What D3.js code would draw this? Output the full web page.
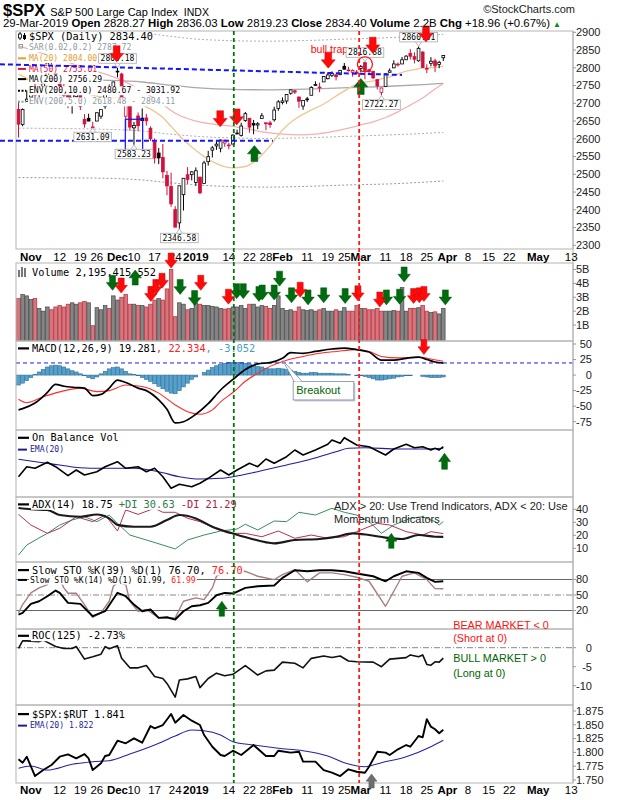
<!DOCTYPE html>
<html>
<head>
<meta charset="utf-8">
<script src="https://cdn.jsdelivr.net/npm/d3@7"></script>
<style>
  body { margin: 0; background: #fff; }
  svg { display: block; font-family: "Liberation Sans", Arial, sans-serif; }
</style>
</head>
<body>
<svg id="chart" width="620" height="800"></svg>
<script>
// one entry per trading day, 29-Oct-2018 .. 29-Mar-2019 (index 0..103)
var openPx = [2682.65,2640.68,2705.60,
  2717.58,2745.45,2726.37,2738.40,2774.13,2806.38,2794.10,2773.93,2730.05,2737.90,2693.52,2718.54,2730.74,2654.60,2657.74,2633.36,2649.97,2663.75,2691.45,2736.97,2737.76,
  2790.50,2782.43,2663.51,2691.26,2630.86,2664.44,2658.23,2658.70,2629.68,2590.75,2559.90,2547.05,2496.77,2465.38,2400.56,2363.12,2442.50,2498.77,2498.94,
  2476.96,2491.92,2474.33,2535.61,2568.11,2580.00,2573.51,2588.11,2580.31,2585.10,2614.75,2609.28,2651.27,2657.88,2643.48,2638.84,2657.44,2644.97,2644.89,2653.62,2685.49,
  2702.32,2706.49,2728.34,2735.05,2717.53,2692.36,2712.40,2722.61,2750.30,2743.50,2760.24,2769.28,2779.05,2780.24,2780.67,2804.35,2792.36,2787.50,2788.11,
  2798.22,2814.37,2794.41,2790.27,2766.53,2730.79,2747.61,2787.34,2799.78,2810.38,2810.79,2822.61,2840.76,2831.34,2819.72,2844.52,2796.01,2812.66,2819.72,2809.40,2828.27];
var highPx = [2706.85,2685.43,2736.69,
  2741.67,2756.55,2744.27,2756.82,2815.15,2814.75,2794.10,2775.99,2754.60,2746.80,2735.38,2746.75,2733.16,2669.44,2670.73,2647.55,2674.35,2682.53,2744.00,2753.75,2760.88,
  2800.18,2785.93,2696.15,2708.54,2647.51,2674.35,2685.44,2670.19,2635.07,2601.13,2573.99,2585.29,2509.63,2504.41,2410.34,2467.76,2489.10,2520.27,2509.24,
  2519.49,2493.14,2538.07,2566.16,2579.82,2595.32,2597.82,2596.27,2589.32,2613.08,2625.76,2645.06,2675.47,2657.88,2653.19,2647.20,2672.38,2644.97,2650.93,2690.44,2708.95,
  2716.66,2724.99,2738.98,2738.08,2719.32,2708.07,2718.05,2748.19,2761.85,2757.90,2775.66,2787.33,2789.88,2781.58,2794.20,2813.49,2803.12,2795.76,2793.73,
  2808.02,2816.88,2796.44,2790.27,2767.25,2744.13,2784.00,2798.32,2821.24,2815.00,2830.73,2835.41,2852.42,2843.54,2860.31,2846.16,2809.79,2829.87,2825.56,2819.71,2836.03];
var lowPx = [2603.54,2635.34,2705.60,
  2708.85,2700.44,2717.94,2737.08,2774.13,2794.99,2764.24,2722.00,2714.98,2685.75,2670.75,2712.16,2681.09,2631.52,2649.82,2631.09,2649.97,2655.89,2684.38,2722.94,2732.76,
  2773.38,2697.18,2621.53,2623.14,2583.23,2621.30,2650.26,2637.27,2593.84,2530.54,2528.71,2488.96,2441.18,2408.55,2351.10,2346.58,2397.94,2472.89,2482.82,
  2467.47,2443.96,2474.33,2524.56,2547.56,2568.89,2562.02,2577.40,2570.41,2585.10,2612.68,2606.36,2647.58,2617.27,2612.86,2627.01,2657.33,2624.06,2631.05,2648.34,2678.65,
  2696.88,2698.75,2724.03,2726.27,2687.26,2681.83,2703.79,2722.61,2748.63,2731.23,2760.24,2767.29,2774.06,2764.55,2779.11,2794.99,2789.47,2775.13,2782.51,
  2787.38,2767.66,2782.97,2768.69,2739.09,2722.27,2747.61,2786.73,2799.78,2803.46,2810.79,2821.99,2823.27,2812.43,2817.38,2800.47,2785.02,2803.99,2787.72,2798.77,2819.23];
var closePx = [2641.25,2682.63,2711.74,
  2740.37,2723.06,2738.31,2755.45,2813.89,2806.83,2781.01,2726.22,2722.18,2701.58,2730.20,2736.27,2690.73,2641.89,2649.93,2632.56,2673.45,2682.17,2743.79,2737.80,2760.17,
  2790.37,2700.06,2695.95,2633.08,2637.72,2636.78,2651.07,2650.54,2599.95,2545.94,2546.16,2506.96,2467.42,2416.62,2351.10,2467.70,2488.83,2485.74,2506.85,
  2510.03,2447.89,2531.94,2549.69,2574.41,2584.96,2596.64,2596.26,2582.61,2610.30,2616.10,2635.96,2670.71,2632.90,2638.70,2642.33,2664.76,2643.85,2640.00,2681.05,2704.10,
  2706.53,2724.87,2737.70,2731.61,2706.05,2707.88,2709.80,2744.73,2753.03,2745.73,2775.60,2779.76,2784.70,2774.88,2792.67,2796.11,2793.90,2792.38,2784.49,
  2803.69,2792.81,2789.65,2771.45,2748.93,2743.07,2783.30,2791.52,2810.92,2808.48,2822.48,2832.94,2832.57,2824.23,2854.88,2800.71,2798.36,2818.46,2805.37,2815.44,2834.40];
var prevClose = 2658.69;
// volume, billions
var volB = [2.9,3.2,3.1,
  2.85,2.9,2.2,2.0,2.3,2.1,2.3,2.4,2.3,2.5,2.6,2.5,2.6,2.7,2.6,0.95,2.25,2.1,2.4,2.2,3.1,
  2.8,3.0,3.2,2.5,2.5,2.4,2.4,2.3,2.5,2.8,2.9,2.8,3.6,5.0,1.6,2.6,2.5,2.1,2.2,
  2.6,2.5,2.4,2.4,2.35,2.3,2.2,2.15,2.2,2.3,2.3,2.4,2.2,2.5,2.5,2.3,2.4,2.35,2.2,2.4,3.1,
  2.2,2.05,2.1,2.0,2.3,2.1,2.05,2.1,2.0,2.1,2.2,2.0,2.0,2.1,2.0,2.25,2.0,2.0,2.4,
  2.2,2.2,2.1,2.1,2.2,2.0,2.0,2.0,2.05,2.0,3.7,2.0,2.2,2.2,2.25,2.4,2.0,1.9,1.95,1.8,2.2];
var macdHist = [-16,-13,-9,-4,1,5,9,13,15,16, 15,13,10,7,5,2,-1,-4,-6,-3,
  2,6,10,12,13,10,6,2,1,-1, -4,-7,-10,-14,-18,-22,-26,-29,-30,-25,
  -19,-13,-7,-3,0,4,8,12,15,17, 19,20,20,20,20,19,18,16,14,13,
  11,10,10,11,10,9,8,6,4,3, 3,4,4,3,3,3,3,2,2,2,
  1,0,-1,-1,-2,-4,-6,-8,-8,-7, -6,-5,-3,-2,-1,-1,0,0,-2,-3, -4,-4,-4,-3.05];

// overlays: [day index, value]
var ma20 = [[0,2782],[4,2760],[8,2745],[12,2735],[16,2728],[20,2718],[23,2716],[26,2712],[29,2700],[32,2684],[35,2660],[37,2635],[40,2597],[42,2577],[45,2550],[48,2530],[52,2518],[55,2522],[58,2543],[61,2580],[64,2625],[67,2655],[70,2675],[74,2698],[78,2728],[81,2748],[83,2757],[86,2763],[88,2769],[91,2778],[93,2787],[96,2795],[98,2799],[100,2800],[103,2804]];
var ma50 = [[0,2862],[6,2840],[13,2812],[19,2790],[24,2770],[30,2735],[34,2705],[38,2672],[43,2650],[48,2640],[52,2635],[56,2627],[60,2618],[64,2613],[68,2611],[72,2613],[76,2620],[80,2630],[83,2639],[86,2648],[89,2660],[92,2676],[95,2695],[98,2715],[100,2732],[103,2756]];
var ma200 = [[0,2768],[10,2767],[20,2765],[30,2760],[36,2752],[42,2745],[50,2740],[60,2738],[70,2740],[80,2744],[90,2748],[100,2754],[103,2756]];
var env5Lo = [[0,2630],[10,2629],[20,2627],[30,2622],[36,2614],[42,2608],[50,2603],[60,2601],[70,2603],[80,2607],[90,2611],[100,2616],[103,2618]];
var env5Hi = [[0,2906],[10,2905],[20,2903],[30,2898],[36,2890],[42,2882],[50,2877],[60,2875],[70,2877],[80,2881],[90,2885],[100,2892],[103,2894]];
var env10Lo = [[0,2491],[10,2490],[20,2489],[30,2484],[36,2477],[42,2471],[50,2466],[60,2464],[70,2466],[80,2470],[90,2473],[100,2479],[103,2481]];

var macdLine = [[0,-56],[1,-54],[4,-45],[7,-28],[9,-15],[11,-18],[14,-20],[16,-21],[18,-33],[20,-31],[22,-21],[24,-8],[26,-12],[29,-21],[31,-25],[34,-40],[36,-55],[38,-77],[40,-75],[43,-63],[46,-46],[49,-24],[52,-7],[55,9],[58,18],[61,20],[64,27],[66,36],[69,35],[72,38],[76,42],[79,43.5],[82,41],[85,37],[88,24],[91,24],[94,27],[97,29],[99,25],[101,21],[103,19.28]];
var macdSignal = [[0,-39],[2,-44.5],[6,-35],[10,-27],[15,-21],[19,-26.6],[22,-25],[26,-16],[30,-18.5],[34,-29],[38,-48],[41,-59],[44,-63],[47,-56],[49,-43],[52,-28],[55,-10],[58,3],[61,14],[65,24],[69,30],[73,35],[77,38],[82,41],[85,38],[88,30],[92,27.6],[97,29],[100,26],[103,22.33]];
var obv = [[0,20.3],[2,30.3],[4,28.7],[7,34.7],[9,30.3],[12,21.3],[14,27],[16,22],[19,25.3],[21,30.3],[24,35.3],[26,28.7],[29,30.3],[31,25.3],[33,28.7],[35,20.3],[37,8.7],[39,12.7],[42,10.3],[44,13.7],[46,18.7],[49,27],[51,22],[53,27],[56,33.7],[58,30.3],[60,38],[62,33.7],[65,40.3],[67,47],[69,42],[72,47],[75,52.7],[76,57],[78,53.7],[79,59.3],[82,52],[85,50.3],[89,42],[91,48],[94,52.7],[96,49.3],[98,50.3],[100,47],[101,48.7],[102,47],[103,50.3]];
var obvEma = [[0,37.7],[5,34.7],[10,32],[15,29.3],[20,28.7],[28,28.7],[34,25.3],[39,20.3],[44,18],[49,18.7],[52,20.3],[58,25.3],[65,32],[71,38],[77,45.3],[80,48.7],[84,49.3],[92,48],[98,48],[103,48.7]];
var adx = [[0,41],[3,40],[7,39.5],[10,35.6],[15,34.3],[19,36],[22,33],[24,28],[28,26.6],[32,26.6],[36,31.8],[39,35.6],[43,33],[47,26.6],[51,22.3],[56,17.7],[62,13.8],[67,16.4],[73,17.2],[77,18.9],[81,21.5],[85,20.2],[89,18.2],[93,17.2],[97,20.2],[101,18.9],[103,18.75]];
var plusDI = [[0,4.8],[2,12.5],[5,18],[7,21.5],[10,27.9],[13,31.8],[16,34.3],[19,30.5],[22,35.6],[24,29.2],[27,20.2],[31,16.4],[35,12.5],[38,9.5],[41,16.4],[45,20.2],[49,23.3],[53,24.8],[55,28.5],[58,24.1],[62,31],[65,30.5],[68,37.7],[72,35.6],[76,40.8],[79,37.7],[82,35.6],[85,30.5],[88,21.5],[91,27.9],[95,33.1],[98,34.3],[101,30.5],[102,27.9],[103,30.63]];
var minusDI = [[0,36.1],[3,27.9],[7,21.5],[10,25.4],[14,34.3],[18,30.5],[21,35.6],[24,23.3],[26,39.5],[29,36.1],[33,40.8],[35,37.7],[38,37.7],[41,33.1],[44,30.5],[48,24.8],[51,21.5],[55,21.5],[59,18.9],[63,23.3],[67,17.7],[71,20.2],[75,17.7],[79,18.9],[82,22.8],[87,29.2],[90,27.9],[94,22.8],[98,20.2],[100,22.8],[103,21.29]];
var sto39 = [[0,12.2],[1,15.5],[3,32.9],[5,37.9],[7,47.6],[9,58.6],[10,54.2],[12,34.8],[15,32.9],[18,8.9],[21,18.6],[24,54.2],[26,47.6],[28,31.5],[30,18.6],[32,21.9],[34,5.8],[36,7],[38,2.5],[40,18.6],[42,28.2],[44,30.2],[46,34.8],[48,49.5],[50,54.2],[52,52.8],[55,63.8],[58,66.9],[62,68.3],[64,83.2],[67,97.9],[70,95.9],[73,97.9],[76,97.9],[79,95.9],[82,91.5],[86,86.3],[89,76.6],[91,86.3],[94,95.9],[97,92.8],[99,83.2],[101,75.4],[103,76.7]];
var sto14 = [[0,15.5],[1,31.5],[3,54.2],[5,63.8],[7,70],[9,96],[11,63.8],[12,53.4],[14,53.4],[16,31.5],[18,6.8],[20,15.5],[22,37.9],[23,66.9],[24,74],[26,70],[27,37.9],[29,18.6],[31,21.9],[34,5.8],[38,5.8],[40,37.9],[43,44.4],[45,41.1],[47,63.8],[48,86.3],[51,98],[53,95],[55,95.9],[58,86.3],[62,79.8],[64,89.5],[67,99.2],[70,75.4],[73,92.8],[76,92.8],[79,89.5],[82,84.3],[85,76.6],[89,28.2],[91,57.3],[93,86.3],[96,92.8],[99,79.8],[101,62.3],[103,61.99]];
var roc = [[0,-0.2],[1,1.8],[2,1.8],[5,1.6],[6,2],[9,0.3],[11,-0.2],[13,-0.2],[14,0.3],[16,-3],[18,-2.4],[20,-1.7],[21,0.3],[22,-0.3],[24,0.5],[25,-2.8],[27,-5.3],[29,-5.3],[31,-4.7],[33,-7.6],[35,-8.1],[36,-9.4],[38,-13],[39,-8.5],[41,-8.2],[43,-7.6],[44,-10.5],[46,-8.1],[48,-6.7],[50,-7.4],[52,-7],[55,-4.7],[58,-7.2],[60,-6.1],[62,-5.9],[64,-3.8],[67,-4.1],[69,-5.3],[71,-2.8],[74,-2.2],[76,-2.6],[78,-2.2],[80,-3.5],[82,-3.7],[86,-3.8],[88,-5],[90,-3],[92,-2.8],[94,-2.6],[95,-1.9],[97,-2.4],[98,-1.9],[99,-4.4],[100,-4.6],[101,-3.7],[102,-3.8],[103,-2.73]];
var spxRut = [[0,1.7875],[1,1.7814],[2,1.7922],[4,1.7572],[6,1.768],[8,1.7772],[10,1.7922],[12,1.7965],[14,1.7893],[16,1.797],[17,1.789],[18,1.768],[20,1.7803],[21,1.7935],[22,1.7953],[24,1.8212],[26,1.8165],[28,1.8255],[30,1.8176],[32,1.8478],[33,1.8436],[35,1.8496],[37,1.8696],[38,1.8538],[40,1.8678],[42,1.8574],[44,1.8496],[45,1.8315],[47,1.8103],[49,1.7953],[50,1.7935],[52,1.8031],[54,1.7953],[57,1.8134],[60,1.7935],[62,1.7935],[63,1.8031],[66,1.7995],[68,1.8013],[69,1.7832],[72,1.7832],[74,1.768],[76,1.7632],[78,1.7572],[80,1.7694],[82,1.765],[84,1.7632],[85,1.7741],[87,1.8013],[89,1.7995],[90,1.7953],[92,1.8056],[94,1.8134],[95,1.8103],[97,1.8297],[98,1.8273],[99,1.86],[100,1.8466],[101,1.8419],[102,1.8346],[103,1.841]];
var spxRutEma = [[0,1.7712],[3,1.7754],[7,1.768],[13,1.7785],[18,1.7832],[22,1.785],[27,1.797],[33,1.8134],[38,1.8297],[42,1.8406],[45,1.8393],[49,1.8315],[52,1.8194],[57,1.8134],[63,1.8074],[69,1.8031],[75,1.7935],[79,1.7814],[84,1.7741],[88,1.7814],[94,1.7922],[100,1.8103],[103,1.822]];

// axis ticks
var tickDay = [3,10,15,19,24,28,33,38,43,51,56,60,64,70,75,79,83,89,94,99,104,109,114,119,126,134];
var tickText = ["Nov","12","19","26","Dec","10","17","24","2019","14","22","28","Feb","11","19","25","Mar","11","18","25","Apr","8","15","22","May","13"];
var monthNames = ["Nov","Dec","2019","Feb","Mar","Apr","May"];
var priceTicks = [2900,2850,2800,2750,2700,2650,2600,2550,2500,2450,2400,2350,2300];
var volTicks = [5,4,3,2,1];
var macdTicks = [50,25,0,-25,-50,-75];
var adxTicks = [40,30,20,10];
var stoTicks = [80,50,20];
var rocTicks = [0,-5,-10];
var rutTicks = [1.875,1.85,1.825,1.8,1.775,1.75];

// annotations: [day index, value]
var mainDownRed = [[23.8,2817],[48.9,2634],[52.9,2639],[75.1,2799],[85.9,2841],[98.8,2873]];
var mainUpGreen = [[57.2,2581],[83,2770]];
var volDownGreen = [[22.8,3.5],[39.2,3.2],[42.7,2.4],[52.9,2.9],[54.5,2.9],[58.3,2.7],[59.1,2.8],[62,2.8],[63.3,3.8],[66.2,2.6],[70.2,2.45],[74,2.6],[79.2,2.55],[89.2,2.45],[92.4,2.5],[93.5,4.1],[103.5,2.45]];
var volUpGreen = [[28.3,4.96]];
var volDownRed = [[24.9,3.3],[32.1,2.7],[33.3,3.2],[34.8,3.65],[37,5.1],[44.2,3.5],[50.9,2.5],[68.3,3.0],[82.3,2.75],[87.6,2.3],[95.8,2.55],[97.2,2.6],[98.3,2.7]];
var tagDays = [24,18,28,39,84,97,88];
var tagAbove = [1,0,0,0,1,1,0];
var greenLineDay = 52.2, redLineDay = 82.6;

var svg = d3.select("#chart");
var L = 16, R = 573;
var x = d3.scaleLinear().domain([0, 103]).range([18.5, 443.3]);
var mono = '"DejaVu Sans Mono", monospace';
var upC = "#000", dnC = "#d2103c";

var panels = {
  main: {top: 31, bot: 249, y: d3.scaleLinear().domain([2300, 2900]).range([245.3, 32.3])},
  vol:  {top: 263, bot: 341, y: d3.scaleLinear().domain([0, 5]).range([338.9, 269.5])},
  macd: {top: 341, bot: 430, y: d3.scaleLinear().domain([-75, 50]).range([421.7, 344])},
  obv:  {top: 430, bot: 497, y: d3.scaleLinear().domain([0, 67]).range([497, 430])},
  adx:  {top: 497, bot: 562, y: d3.scaleLinear().domain([10, 40]).range([548.3, 509.3])},
  sto:  {top: 562, bot: 629, y: d3.scaleLinear().domain([20, 80]).range([610.5, 579.5])},
  roc:  {top: 629, bot: 705, y: d3.scaleLinear().domain([-10, 0]).range([685.7, 647.7])},
  rut:  {top: 705, bot: 783, y: d3.scaleLinear().domain([1.75, 1.875]).range([780, 711])}
};

var defs = svg.append("defs");
Object.keys(panels).forEach(function(k) {
  var p = panels[k];
  defs.append("clipPath").attr("id", "clip-" + k).append("rect")
    .attr("x", L).attr("y", p.top).attr("width", R - L).attr("height", p.bot - p.top);
  p.g = svg.append("g").attr("clip-path", "url(#clip-" + k + ")");
});
var legG = svg.append("g");
var frameG = svg.append("g");
var annG = svg.append("g");

function dayColor(i) {
  var pc = i ? closePx[i - 1] : prevClose;
  return closePx[i] < pc ? dnC : upC;
}

function drawLine(p, pts, color, width, dash, smooth) {
  var gen = d3.line()
    .x(function(d) { return x(d[0]); })
    .y(function(d) { return p.y(d[1]); });
  if (smooth) gen.curve(d3.curveMonotoneX);
  p.g.append("path").attr("d", gen(pts))
    .attr("fill", "none").attr("stroke", color).attr("stroke-width", width)
    .attr("stroke-dasharray", dash || null).attr("stroke-linejoin", "round");
}

function hline(p, v, color, dash) {
  p.g.append("line").attr("x1", L).attr("x2", R).attr("y1", p.y(v)).attr("y2", p.y(v))
    .attr("stroke", color).attr("stroke-width", 1).attr("stroke-dasharray", dash || null);
}

// ---- main panel
var pm = panels.main;
drawLine(pm, env10Lo, "#9a9a9a", 1, "2,2", true);
drawLine(pm, env5Lo, "#b0b0b0", 1, "2,2", true);
drawLine(pm, env5Hi, "#b0b0b0", 1, "2,2", true);
drawLine(pm, ma200, "#a9a9a9", 1.3, null, true);
drawLine(pm, ma50, "#f2b2b2", 1.3, null, true);
drawLine(pm, ma20, "#ebc996", 1.4, null, true);

pm.g.selectAll("line.wick").data(closePx).enter().append("line")
  .attr("class", "wick")
  .attr("x1", function(d, i) { return x(i); })
  .attr("x2", function(d, i) { return x(i); })
  .attr("y1", function(d, i) { return pm.y(highPx[i]); })
  .attr("y2", function(d, i) { return pm.y(lowPx[i]); })
  .attr("stroke", function(d, i) { return dayColor(i); })
  .attr("stroke-width", 1);
pm.g.selectAll("rect.body").data(closePx).enter().append("rect")
  .attr("class", "body")
  .attr("x", function(d, i) { return x(i) - 1.4; })
  .attr("width", 2.8)
  .attr("y", function(d, i) { return pm.y(Math.max(openPx[i], d)); })
  .attr("height", function(d, i) { return Math.max(0.8, Math.abs(pm.y(openPx[i]) - pm.y(d))); })
  .attr("fill", function(d, i) { return d < openPx[i] ? dayColor(i) : "#fff"; })
  .attr("stroke", function(d, i) { return dayColor(i); })
  .attr("stroke-width", 0.8);

// ---- volume
var pv = panels.vol;
pv.g.selectAll("rect").data(volB).enter().append("rect")
  .attr("x", function(d, i) { return x(i) - 1.8; })
  .attr("width", 3.6)
  .attr("y", function(d) { return pv.y(d); })
  .attr("height", function(d) { return pv.y(0) - pv.y(d) + 3; })
  .attr("fill", function(d, i) { return dayColor(i) === dnC ? "#d8757d" : "#858585"; })
  .attr("stroke", function(d, i) { return dayColor(i) === dnC ? "#b0303e" : "#474747"; })
  .attr("stroke-width", 0.7);

// ---- MACD
var pc = panels.macd;
pc.g.selectAll("rect").data(macdHist).enter().append("rect")
  .attr("x", function(d, i) { return x(i) - 1.9; })
  .attr("width", 3.8)
  .attr("y", function(d) { return Math.min(pc.y(0), pc.y(d)); })
  .attr("height", function(d) { return Math.abs(pc.y(d) - pc.y(0)); })
  .attr("fill", "#55a1cc").attr("stroke", "#2f6f98").attr("stroke-width", 0.6);
hline(pc, 19.5, "#1a1aee", "4,3");
drawLine(pc, macdSignal, "#ff2a2a", 1.1, null, true);
drawLine(pc, macdLine, "#000", 1.7, null, true);

// ---- OBV
var po = panels.obv;
drawLine(po, obvEma, "#1c1c9c", 1.1, null, true);
drawLine(po, obv, "#000", 1.6);

// ---- ADX
var pa = panels.adx;
drawLine(pa, plusDI, "#3a8c5c", 1);
drawLine(pa, minusDI, "#b43058", 1);
drawLine(pa, adx, "#1a1a1a", 2.1, null, true);

// ---- Slow stochastics
var ps = panels.sto;
hline(ps, 80, "#666");
hline(ps, 20, "#666");
hline(ps, 50, "#888", "6,2,1,2");
drawLine(ps, sto14, "#a58080", 1.4);
drawLine(ps, sto39, "#000", 1.9);

// ---- ROC
var pr = panels.roc;
hline(pr, 0, "#888", "6,2,1,2");
drawLine(pr, roc, "#111", 1.6);

// ---- $SPX:$RUT
var pu = panels.rut;
drawLine(pu, spxRutEma, "#2424a8", 1.1, null, true);
drawLine(pu, spxRut, "#000", 1.9);

// ---- legends (white behind the text, like the original)
function legendRow(x0, yb, parts, size, swatch) {
  var t = legG.append("text").attr("x", x0).attr("y", yb)
    .style("font-family", mono).attr("font-size", size);
  parts.forEach(function(pt) { t.append("tspan").attr("fill", pt[1]).text(pt[0]); });
  var bb = t.node().getBBox();
  legG.insert("rect", function() { return t.node(); })
    .attr("x", bb.x - 1).attr("y", bb.y + 1).attr("width", bb.width + 2).attr("height", bb.height - 1)
    .attr("fill", "#fff");
  if (swatch) {
    legG.append("line").attr("x1", 18).attr("x2", x0 - 3)
      .attr("y1", yb - size * 0.33).attr("y2", yb - size * 0.33)
      .attr("stroke", swatch[0]).attr("stroke-width", swatch[1])
      .attr("stroke-dasharray", swatch[2] || null);
  }
}
legendRow(29, 39.6, [["$SPX (Daily) 2834.40", "#000"]], 10.3);
legendRow(29, 50.3, [["SAR(0.02,0.2) 2787.72", "#8d9aa2"]], 8.1);
legendRow(29, 61, [["MA(20) 2804.00", "#e0a030"]], 8.1, ["#e0a030", 2]);
legendRow(29, 71.6, [["MA(50) 2755.61", "#e0103c"]], 8.1, ["#e0103c", 2]);
legendRow(29, 81.8, [["MA(200) 2756.29", "#000"]], 8.1, ["#000", 2]);
legendRow(29, 93.3, [["ENV(200,10.0) 2480.67 - 3031.92", "#000"]], 8.1, ["#000", 2, "2,1.5"]);
legendRow(29, 104.3, [["ENV(200,5.0) 2618.48 - 2894.11", "#8d9aa2"]], 8.1, ["#8d9aa2", 2, "2,1.5"]);
// candle icon + SAR icon
legG.append("line").attr("x1", 20).attr("x2", 20).attr("y1", 32).attr("y2", 40).attr("stroke", "#000");
legG.append("rect").attr("x", 18.5).attr("y", 34).attr("width", 3).attr("height", 4).attr("fill", "#fff").attr("stroke", "#000").attr("stroke-width", 0.8);
legG.append("line").attr("x1", 24.5).attr("x2", 24.5).attr("y1", 33).attr("y2", 40).attr("stroke", "#000");
legG.append("rect").attr("x", 23).attr("y", 35).attr("width", 3).attr("height", 4).attr("fill", "#000");
legG.append("rect").attr("x", 19).attr("y", 44.5).attr("width", 3.5).attr("height", 3.5).attr("fill", "none").attr("stroke", "#8d9aa2");

legendRow(32, 275.5, [["Volume 2,195,415,552", "#000"]], 10.3);
[0, 1, 2].forEach(function(k) {
  legG.append("rect").attr("x", 18 + k * 3).attr("y", 268 + (k === 1 ? -1 : 2 - k)).attr("width", 2)
    .attr("height", 9 - (k === 1 ? -1 : 2 - k)).attr("fill", "#777");
});
legendRow(32, 351.8, [["MACD(12,26,9) 19.281", "#000"], [", 22.334", "#ff2020"], [", -3.052", "#4a9cc8"]], 10.3, ["#000", 2.2]);
legendRow(32, 441.2, [["On Balance Vol", "#000"]], 10.3, ["#000", 2.2]);
legendRow(30, 452.3, [["EMA(20)", "#1c1c9c"]], 8.1, ["#1c1c9c", 2]);
legendRow(32, 507.8, [["ADX(14) 18.75", "#000"], [" +DI 30.63", "#2e7d4f"], [" -DI 21.29", "#b02048"]], 10.3, ["#000", 2.2]);
legendRow(32, 573.5, [["Slow STO %K(39) %D(1) 76.70,", "#000"], [" 76.70", "#ff2020"]], 10.3, ["#000", 2.2]);
legendRow(30, 582.6, [["Slow STO %K(14) %D(1) 61.99,", "#000"], [" 61.99", "#ff2020"]], 8.1, ["#000", 2]);
legendRow(32, 639.2, [["ROC(125) -2.73%", "#000"]], 10.3, ["#000", 2.2]);
legendRow(32, 717.5, [["$SPX:$RUT 1.841", "#000"]], 10.3, ["#000", 2.2]);
legendRow(30, 728.3, [["EMA(20) 1.822", "#1c1c9c"]], 8.1, ["#1c1c9c", 2]);

// ---- frames, right axes and date axes
Object.keys(panels).forEach(function(k) {
  var p = panels[k];
  frameG.append("rect").attr("x", L).attr("y", p.top).attr("width", R - L).attr("height", p.bot - p.top)
    .attr("fill", "none").attr("stroke", "#b4b4b4").attr("stroke-width", 1);
});
frameG.append("line").attr("x1", R).attr("x2", R).attr("y1", 31).attr("y2", 783)
  .attr("stroke", "#b4b4b4");

function rightAxis(p, ticks, fmt) {
  var g = frameG.append("g");
  var lab = g.selectAll("text").data(ticks).enter().append("text")
    .attr("y", function(d) { return p.y(d) + 3.8; })
    .attr("font-size", 11).attr("fill", "#222")
    .text(fmt);
  var wMax = d3.max(lab.nodes(), function(n) { return n.getComputedTextLength(); });
  lab.attr("x", function() { return 576 + wMax - this.getComputedTextLength(); });
  g.selectAll("line").data(ticks).enter().append("line")
    .attr("x1", R).attr("x2", R + 3)
    .attr("y1", function(d) { return p.y(d); }).attr("y2", function(d) { return p.y(d); })
    .attr("stroke", "#999");
}
rightAxis(pm, priceTicks, function(d) { return d; });
rightAxis(pv, volTicks, function(d) { return d + "B"; });
rightAxis(pc, macdTicks, function(d) { return d; });
rightAxis(pa, adxTicks, function(d) { return d; });
rightAxis(ps, stoTicks, function(d) { return d; });
rightAxis(pr, rocTicks, function(d) { return d; });
rightAxis(pu, rutTicks, d3.format(".3f"));

[260.7, 794.2].forEach(function(yb) {
  frameG.selectAll("text.d" + Math.round(yb)).data(tickText).enter().append("text")
    .attr("class", "d" + Math.round(yb))
    .attr("x", function(d, i) { return x(tickDay[i]); })
    .attr("y", yb)
    .attr("text-anchor", "middle")
    .attr("font-size", 11.5)
    .attr("font-weight", function(d) { return monthNames.indexOf(d) >= 0 ? "bold" : "normal"; })
    .text(function(d) { return d; });
});

// ---- header
var h1 = svg.append("text").attr("x", 3).attr("y", 15.5);
h1.append("tspan").attr("font-weight", "bold").attr("font-size", 16.5).text("$SPX");
h1.append("tspan").attr("dx", 5).attr("font-size", 11).text("S&P 500 Large Cap Index");
h1.append("tspan").attr("dx", 6).attr("font-size", 10.5).text("INDX");
svg.append("text").attr("x", 575).attr("y", 13).attr("text-anchor", "end")
  .attr("font-size", 11).attr("fill", "#222").text("\u00a9StockCharts.com");
var hdr = [["29-Mar-2019 ", 0], ["Open ", 1], ["2828.27 ", 0], ["High ", 1], ["2836.03 ", 0],
  ["Low ", 1], ["2819.23 ", 0], ["Close ", 1], ["2834.40 ", 0], ["Volume ", 1], ["2.2B ", 0],
  ["Chg ", 1], ["+18.96 (+0.67%)", 0]];
var h2 = svg.append("text").attr("x", 3).attr("y", 27.3).attr("font-size", 11.4).attr("xml:space", "preserve");
hdr.forEach(function(h) {
  h2.append("tspan").attr("font-weight", h[1] ? "bold" : "normal").text(h[0]);
});
h2.append("tspan").attr("dx", 3).attr("font-size", 8).attr("fill", "#0a8a0a").text("\u25b2");

// ---- annotations
function arrow(cx, tip, dir, color, w, h) {
  var hw = w / 2, sw = w * 0.24, hh = h * 0.52, s = dir === "down" ? -1 : 1;
  var pts = [[cx - sw, tip + s * h], [cx + sw, tip + s * h], [cx + sw, tip + s * hh], [cx + hw, tip + s * hh],
    [cx, tip], [cx - hw, tip + s * hh], [cx - sw, tip + s * hh]];
  annG.append("path").attr("d", "M" + pts.join("L") + "Z")
    .attr("fill", color).attr("stroke", d3.color(color).darker(0.6)).attr("stroke-width", 0.5);
}
var RED = "#ff0a0a", GREEN = "#006b0f";

// trend lines and box
var trendTop = [[-4.5, 2810], [93, 2780]];
var trendLow = [[-4.5, 2594.6], [61.7, 2594.6]];
[trendTop, trendLow].forEach(function(t) {
  annG.append("line").attr("x1", x(t[0][0])).attr("y1", pm.y(t[0][1]))
    .attr("x2", x(t[1][0])).attr("y2", pm.y(t[1][1]))
    .attr("stroke", "#1414ff").attr("stroke-width", 2).attr("stroke-dasharray", "5,3");
});
var boxDec = [[25.9, 2655], [30.1, 2566]];
annG.append("rect").attr("x", x(boxDec[0][0])).attr("y", pm.y(boxDec[0][1]))
  .attr("width", x(boxDec[1][0]) - x(boxDec[0][0])).attr("height", pm.y(boxDec[1][1]) - pm.y(boxDec[0][1]))
  .attr("fill", "none").attr("stroke", "#1414ff").attr("stroke-width", 1.2);

annG.append("text").attr("x", x(75.4)).attr("y", pm.y(2842)).attr("text-anchor", "middle")
  .attr("font-size", 10.5).attr("fill", RED).text("bull trap");

// price tags
tagDays.forEach(function(d, k) {
  var above = tagAbove[k];
  var v = above ? highPx[d] : lowPx[d];
  var cx = x(d), py = pm.y(v), bh = 9.5;
  var top = above ? py - 4.5 - bh : py + 4.5;
  var edge = above ? top + bh : top;
  annG.append("path")
    .attr("d", "M" + (cx - 3) + "," + edge + "L" + cx + "," + py + "L" + (cx + 3) + "," + edge)
    .attr("fill", "#fff").attr("stroke", "#a8a8a8").attr("stroke-width", 0.8);
  var t = annG.append("text").style("font-family", mono).attr("font-size", 8)
    .attr("text-anchor", "middle").attr("x", cx).attr("y", top + 7.4).text(v.toFixed(2));
  var w = t.node().getComputedTextLength() + 4;
  annG.insert("rect", function() { return t.node(); })
    .attr("x", cx - w / 2).attr("y", top).attr("width", w).attr("height", bh)
    .attr("fill", "#fff").attr("stroke", "#a8a8a8").attr("stroke-width", 0.8);
});

annG.append("circle").attr("cx", x(84)).attr("cy", pm.y(2810)).attr("r", 7.5)
  .attr("fill", "none").attr("stroke", RED).attr("stroke-width", 1.2);

mainDownRed.forEach(function(a) { arrow(x(a[0]), pm.y(a[1]), "down", RED, 14, 16); });
mainUpGreen.forEach(function(a) { arrow(x(a[0]), pm.y(a[1]), "up", GREEN, 14, 16); });
volDownGreen.forEach(function(a) { arrow(x(a[0]), pv.y(a[1]), "down", GREEN, 12.5, 15); });
volUpGreen.forEach(function(a) { arrow(x(a[0]), pv.y(a[1]), "up", GREEN, 12.5, 15); });
volDownRed.forEach(function(a) { arrow(x(a[0]), pv.y(a[1]), "down", RED, 12.5, 15); });

arrow(x(98.3), pc.y(33), "down", RED, 12, 15);
arrow(x(103.3), po.y(43.7), "up", GREEN, 12, 16);
arrow(x(90.4), pa.y(21.5), "up", GREEN, 11, 15);
arrow(x(49.3), ps.y(37.9), "up", GREEN, 11, 15);
arrow(x(85.6), pu.y(1.761), "up", "#6e6e6e", 11, 14);

// MACD callout
var callTip = [64.1, 23.2], callBox = [[66.6, -10.4], [81.3, -40]];
var bx0 = x(callBox[0][0]), by0 = pc.y(callBox[0][1]), bx1 = x(callBox[1][0]), by1 = pc.y(callBox[1][1]);
annG.append("rect").attr("x", bx0 + 1.5).attr("y", by0 + 1.5).attr("width", bx1 - bx0).attr("height", by1 - by0)
  .attr("fill", "#c8c8d0");
annG.append("rect").attr("x", bx0).attr("y", by0).attr("width", bx1 - bx0).attr("height", by1 - by0)
  .attr("fill", "#fff").attr("stroke", "#7d8aa4").attr("stroke-width", 0.8);
annG.append("path")
  .attr("d", "M" + (bx0 + 1) + "," + by0 + "L" + x(callTip[0]) + "," + pc.y(callTip[1]) + "L" + (bx0 + 9) + "," + by0)
  .attr("fill", "#fff").attr("stroke", "#7d8aa4").attr("stroke-width", 0.8);
annG.append("text").attr("x", bx0 + 3).attr("y", pc.y(-30.4)).attr("font-size", 11)
  .attr("fill", "#006400").text("Breakout");

annG.append("text").attr("x", x(76.5)).attr("y", pa.y(39.1)).attr("font-size", 11).attr("fill", "#222")
  .text("ADX > 20: Use Trend Indicators, ADX < 20: Use");
annG.append("text").attr("x", x(76.5)).attr("y", pa.y(29.5)).attr("font-size", 11).attr("fill", "#222")
  .text("Momentum Indicators");

var rocNotes = [["BEAR MARKET < 0", 4.97, "#ff1010"], ["(Short at 0)", 1.47, "#ff1010"],
  ["BULL MARKET > 0", -3.79, "#006400"], ["(Long at 0)", -7.58, "#006400"]];
rocNotes.forEach(function(n) {
  annG.append("text").attr("x", x(105.4)).attr("y", pr.y(n[1])).attr("font-size", 10.8)
    .attr("fill", n[2]).text(n[0]);
});

// event lines through every panel
[[greenLineDay, "#00780a"], [redLineDay, "#ff1a1a"]].forEach(function(v) {
  annG.append("line").attr("x1", x(v[0])).attr("x2", x(v[0])).attr("y1", 31).attr("y2", 783)
    .attr("stroke", v[1]).attr("stroke-width", 1.8).attr("stroke-dasharray", "4,3");
});
</script>
</body>
</html>
